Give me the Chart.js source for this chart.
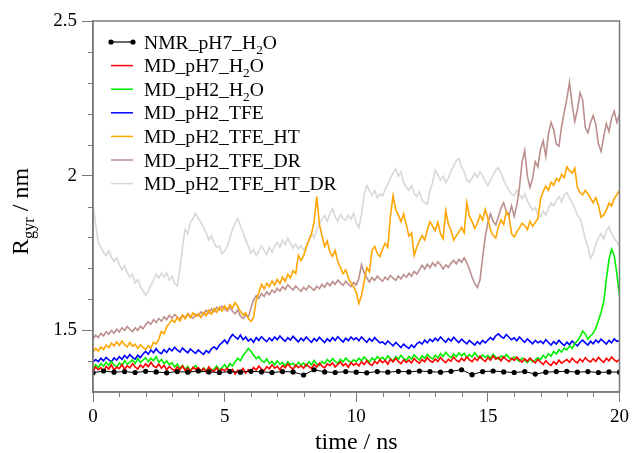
<!DOCTYPE html>
<html>
<head>
<meta charset="utf-8">
<title>Rgyr vs time</title>
<script src="https://cdn.jsdelivr.net/npm/chart.js"></script>
<style>
body{margin:0;background:#fff;}
#wrap{width:633px;height:453px;}
</style>
</head>
<body>
<div id="wrap"><canvas id="c" width="633" height="453"></canvas></div>
<script>
// series labels (₂ is drawn as a real subscript)
const labels=["NMR_pH7_H₂O","MD_pH7_H₂O","MD_pH2_H₂O","MD_pH2_TFE","MD_pH2_TFE_HT","MD_pH2_TFE_DR","MD_pH2_TFE_HT_DR"];
const colors=["#000000","#ff0000","#00ee00","#0000ff","#ffa500","#bc8f8f","#d8d8d8"];

// time steps (ns)
const nmrStep=0.4;
const mdStep=0.1;

const nmr=[1.362,1.368,1.364,1.366,1.363,1.367,1.365,1.362,1.366,1.364,1.368,1.365,1.363,1.366,1.364,1.367,1.365,1.363,1.366,1.365,
1.355,1.372,1.365,1.363,1.366,1.364,1.362,1.366,1.364,1.367,1.365,1.368,1.366,1.364,1.367,1.372,1.356,1.366,1.368,1.365,1.363,1.366,
1.358,1.364,1.366,1.367,1.364,1.366,1.363,1.365,1.364];

// one row per ns, last value at 20 ns
const mdPh7=[
1.368,1.381,1.372,1.379,1.366,1.383,1.374,1.388,1.371,1.380,
1.376,1.389,1.373,1.385,1.378,1.392,1.381,1.374,1.387,1.379,
1.391,1.382,1.396,1.384,1.379,1.390,1.377,1.386,1.372,1.383,
1.375,1.369,1.381,1.372,1.384,1.370,1.378,1.366,1.380,1.373,
1.379,1.368,1.376,1.364,1.381,1.371,1.367,1.378,1.365,1.374,
1.369,1.377,1.362,1.373,1.358,1.370,1.364,1.376,1.361,1.372,
1.366,1.379,1.371,1.384,1.374,1.369,1.382,1.375,1.388,1.377,
1.383,1.372,1.386,1.378,1.391,1.380,1.374,1.387,1.379,1.385,
1.377,1.390,1.382,1.376,1.389,1.381,1.393,1.384,1.378,1.391,
1.386,1.394,1.381,1.389,1.397,1.385,1.392,1.380,1.395,1.387,
1.393,1.384,1.398,1.389,1.401,1.391,1.386,1.399,1.392,1.404,
1.395,1.402,1.390,1.406,1.397,1.409,1.398,1.392,1.404,1.396,
1.403,1.394,1.408,1.399,1.393,1.405,1.398,1.411,1.401,1.396,
1.407,1.399,1.412,1.402,1.395,1.406,1.400,1.413,1.403,1.397,
1.409,1.401,1.414,1.404,1.398,1.410,1.402,1.416,1.405,1.399,
1.411,1.403,1.417,1.406,1.412,1.401,1.414,1.405,1.398,1.409,
1.402,1.413,1.404,1.397,1.408,1.399,1.410,1.401,1.394,1.405,
1.397,1.389,1.401,1.392,1.386,1.398,1.390,1.403,1.393,1.399,
1.405,1.396,1.409,1.400,1.394,1.407,1.398,1.411,1.402,1.397,
1.408,1.399,1.412,1.403,1.396,1.409,1.401,1.413,1.404,1.398,
1.406];

const mdPh2=[
1.375,1.388,1.379,1.392,1.383,1.396,1.386,1.399,1.388,1.381,
1.394,1.386,1.401,1.390,1.397,1.404,1.392,1.408,1.396,1.403,
1.411,1.398,1.409,1.401,1.414,1.396,1.405,1.392,1.400,1.388,
1.395,1.381,1.390,1.376,1.386,1.372,1.383,1.369,1.378,1.386,
1.373,1.365,1.378,1.367,1.380,1.369,1.374,1.384,1.371,1.379,
1.388,1.377,1.392,1.384,1.398,1.409,1.401,1.418,1.429,1.441,
1.432,1.419,1.408,1.414,1.401,1.396,1.407,1.392,1.399,1.388,
1.401,1.390,1.395,1.384,1.398,1.389,1.393,1.382,1.396,1.387,
1.394,1.383,1.398,1.388,1.402,1.391,1.386,1.399,1.392,1.405,
1.396,1.408,1.399,1.393,1.406,1.397,1.410,1.401,1.395,1.404,
1.398,1.409,1.401,1.413,1.404,1.397,1.410,1.402,1.415,1.406,
1.412,1.403,1.417,1.408,1.401,1.414,1.406,1.419,1.409,1.403,
1.415,1.406,1.420,1.411,1.404,1.417,1.409,1.422,1.413,1.407,
1.419,1.410,1.424,1.415,1.428,1.418,1.411,1.423,1.414,1.426,
1.417,1.425,1.412,1.421,1.414,1.427,1.416,1.409,1.420,1.412,
1.418,1.409,1.422,1.413,1.406,1.417,1.410,1.421,1.412,1.405,
1.414,1.406,1.399,1.410,1.402,1.395,1.407,1.398,1.404,1.411,
1.405,1.418,1.410,1.424,1.416,1.431,1.423,1.437,1.429,1.442,
1.436,1.449,1.441,1.456,1.465,1.478,1.497,1.488,1.471,1.482,
1.490,1.506,1.531,1.558,1.592,1.664,1.728,1.762,1.741,1.683,
1.612];

const mdTfe=[
1.396,1.405,1.398,1.409,1.401,1.412,1.404,1.398,1.410,1.403,
1.414,1.406,1.418,1.409,1.421,1.412,1.406,1.419,1.411,1.423,
1.431,1.422,1.436,1.427,1.440,1.429,1.424,1.437,1.428,1.441,
1.433,1.445,1.436,1.429,1.442,1.434,1.427,1.439,1.431,1.425,
1.436,1.428,1.422,1.434,1.427,1.440,1.446,1.438,1.452,1.459,
1.468,1.457,1.474,1.486,1.478,1.471,1.484,1.469,1.478,1.465,
1.472,1.461,1.476,1.467,1.479,1.470,1.463,1.475,1.466,1.478,
1.469,1.481,1.472,1.464,1.476,1.468,1.480,1.471,1.462,1.474,
1.466,1.478,1.469,1.461,1.473,1.465,1.477,1.468,1.460,1.472,
1.464,1.476,1.467,1.479,1.470,1.462,1.474,1.466,1.478,1.469,
1.475,1.466,1.478,1.469,1.461,1.473,1.464,1.476,1.467,1.459,
1.462,1.454,1.465,1.457,1.449,1.460,1.452,1.444,1.455,1.447,
1.441,1.452,1.444,1.456,1.462,1.455,1.468,1.459,1.471,1.463,
1.474,1.466,1.478,1.469,1.461,1.473,1.465,1.477,1.468,1.460,
1.471,1.463,1.456,1.467,1.459,1.452,1.463,1.455,1.467,1.459,
1.468,1.476,1.469,1.482,1.488,1.479,1.474,1.486,1.477,1.469,
1.475,1.466,1.478,1.469,1.461,1.472,1.464,1.456,1.467,1.459,
1.465,1.457,1.469,1.460,1.452,1.463,1.455,1.467,1.458,1.450,
1.461,1.453,1.465,1.457,1.449,1.460,1.468,1.459,1.452,1.464,
1.456,1.468,1.460,1.471,1.463,1.455,1.467,1.459,1.472,1.464,
1.466];

const mdTfeHt=[
1.428,1.441,1.432,1.446,1.437,1.452,1.443,1.458,1.449,1.462,
1.451,1.465,1.453,1.446,1.460,1.448,1.455,1.441,1.453,1.444,
1.437,1.450,1.442,1.461,1.455,1.472,1.496,1.488,1.511,1.522,
1.534,1.525,1.541,1.530,1.548,1.537,1.552,1.541,1.556,1.544,
1.553,1.541,1.558,1.547,1.565,1.552,1.569,1.558,1.574,1.562,
1.578,1.566,1.583,1.571,1.589,1.576,1.561,1.549,1.556,1.538,
1.528,1.541,1.597,1.622,1.648,1.634,1.652,1.641,1.659,1.646,
1.664,1.651,1.672,1.658,1.681,1.669,1.692,1.683,1.742,1.725,
1.741,1.768,1.789,1.812,1.851,1.932,1.842,1.806,1.771,1.788,
1.752,1.739,1.758,1.721,1.702,1.683,1.695,1.668,1.652,1.641,
1.622,1.586,1.612,1.658,1.702,1.689,1.758,1.771,1.749,1.738,
1.762,1.781,1.768,1.871,1.935,1.889,1.872,1.851,1.876,1.842,
1.804,1.815,1.742,1.768,1.789,1.806,1.792,1.825,1.851,1.836,
1.822,1.849,1.812,1.796,1.886,1.842,1.824,1.791,1.805,1.818,
1.832,1.815,1.912,1.868,1.851,1.829,1.845,1.872,1.856,1.891,
1.862,1.823,1.806,1.798,1.834,1.857,1.842,1.883,1.869,1.812,
1.802,1.818,1.831,1.846,1.838,1.825,1.852,1.836,1.849,1.861,
1.924,1.948,1.966,1.952,1.978,1.969,1.991,1.982,2.004,1.993,
2.028,2.016,2.008,2.024,1.962,1.945,1.938,1.952,1.941,1.927,
1.912,1.928,1.904,1.865,1.872,1.888,1.911,1.902,1.926,1.938,
1.952];

const mdTfeDr=[
1.472,1.484,1.476,1.490,1.481,1.495,1.487,1.499,1.490,1.503,
1.494,1.508,1.499,1.512,1.503,1.495,1.508,1.499,1.513,1.504,
1.518,1.527,1.519,1.534,1.525,1.538,1.529,1.543,1.534,1.548,
1.539,1.551,1.542,1.536,1.549,1.540,1.554,1.545,1.538,1.551,
1.546,1.559,1.550,1.564,1.555,1.569,1.560,1.574,1.565,1.578,
1.569,1.562,1.574,1.561,1.553,1.566,1.545,1.538,1.549,1.541,
1.572,1.598,1.611,1.603,1.618,1.609,1.624,1.615,1.630,1.621,
1.635,1.626,1.641,1.632,1.647,1.638,1.630,1.643,1.634,1.626,
1.639,1.630,1.644,1.636,1.629,1.642,1.634,1.648,1.639,1.653,
1.644,1.657,1.648,1.662,1.653,1.645,1.658,1.649,1.641,1.654,
1.646,1.668,1.712,1.686,1.669,1.656,1.670,1.661,1.675,1.666,
1.658,1.672,1.663,1.677,1.668,1.661,1.675,1.666,1.680,1.671,
1.684,1.675,1.690,1.681,1.696,1.710,1.698,1.713,1.702,1.718,
1.707,1.721,1.712,1.698,1.711,1.703,1.717,1.726,1.714,1.729,
1.720,1.734,1.718,1.696,1.672,1.651,1.638,1.662,1.735,1.802,
1.848,1.876,1.852,1.841,1.868,1.895,1.912,1.884,1.871,1.902,
1.868,1.905,1.962,2.045,2.081,1.998,1.962,1.991,2.045,2.028,
2.085,2.112,2.062,2.135,2.172,2.148,2.102,2.095,2.158,2.205,
2.248,2.302,2.231,2.175,2.212,2.268,2.245,2.156,2.138,2.172,
2.194,2.165,2.102,2.078,2.125,2.168,2.142,2.186,2.208,2.172,
2.198];

const mdTfeHtDr=[
1.912,1.842,1.782,1.768,1.752,1.741,1.758,1.736,1.722,1.734,
1.712,1.695,1.708,1.686,1.672,1.681,1.652,1.664,1.641,1.629,
1.612,1.628,1.645,1.662,1.681,1.668,1.684,1.671,1.686,1.662,
1.675,1.651,1.643,1.698,1.768,1.826,1.812,1.848,1.862,1.878,
1.861,1.849,1.832,1.815,1.792,1.805,1.781,1.768,1.772,1.748,
1.756,1.772,1.798,1.825,1.846,1.862,1.838,1.815,1.792,1.771,
1.748,1.762,1.741,1.756,1.772,1.758,1.745,1.768,1.752,1.771,
1.784,1.768,1.792,1.776,1.798,1.781,1.765,1.779,1.762,1.774,
1.758,1.772,1.795,1.812,1.798,1.826,1.842,1.859,1.871,1.852,
1.878,1.892,1.868,1.852,1.874,1.861,1.856,1.872,1.859,1.878,
1.846,1.832,1.875,1.938,1.968,1.951,1.936,1.952,1.928,1.941,
1.935,1.956,1.972,1.992,2.008,2.022,1.998,2.012,1.978,1.962,
1.952,1.968,1.942,1.932,1.948,1.921,1.912,1.908,1.952,1.978,
2.018,2.002,1.985,1.998,1.978,1.992,2.015,2.032,2.048,2.055,
2.028,2.012,1.985,1.978,1.992,2.008,1.995,2.012,1.998,1.982,
1.968,1.985,2.002,2.018,2.025,2.008,1.985,1.968,1.952,1.941,
1.935,1.952,1.938,1.925,1.941,1.918,1.902,1.888,1.896,1.872,
1.868,1.885,1.872,1.895,1.912,1.902,1.918,1.932,1.915,1.938,
1.945,1.928,1.912,1.896,1.872,1.862,1.832,1.795,1.768,1.732,
1.748,1.776,1.798,1.812,1.795,1.822,1.835,1.812,1.798,1.785,
1.772];

// axis ticks
const xTicks=[0,5,10,15,20];
const xMinor=[1,2,3,4,6,7,8,9,11,12,13,14,16,17,18,19];
const yTicks=[1.5,2,2.5];
const yMinor=[1.4,1.6,1.7,1.8,1.9,2.1,2.2,2.3,2.4];

const FONT='"Liberation Serif","Times New Roman",serif';
const AXIS='#7a7a7a';

function pts(vals,step){return vals.map((v,i)=>({x:+(i*step).toFixed(2),y:v}));}

const series=[nmr,mdPh7,mdPh2,mdTfe,mdTfeHt,mdTfeDr,mdTfeHtDr];
const datasets=series.map((vals,k)=>({
label:labels[k],
data:pts(vals,k===0?nmrStep:mdStep),
borderColor:colors[k],
backgroundColor:colors[k],
borderWidth:k===0?1:1.6,
pointRadius:k===0?2.6:0,
pointBorderWidth:0,
tension:0
}));

// text with real subscripts: "₂" -> small lowered "2"
function splitSub(s){
const out=[];
s.split('₂').forEach((part,i)=>{
if(i>0)out.push({t:'2',sub:true});
if(part)out.push({t:part,sub:false});
});
return out;
}
function runsWidth(ctx,runs,size){
let w=0;
runs.forEach(r=>{ctx.font=(r.sub?size*0.68:size)+'px '+FONT;w+=ctx.measureText(r.t).width;});
return w;
}
function drawRuns(ctx,runs,x,y,size){
let cx=x;
runs.forEach(r=>{
ctx.font=(r.sub?size*0.68:size)+'px '+FONT;
ctx.fillText(r.t,cx,y+(r.sub?size*0.27:0));
cx+=ctx.measureText(r.t).width;
});
}

const decor={
id:'decor',
afterDraw(chart){
const ctx=chart.ctx,a=chart.chartArea,xs=chart.scales.x,ys=chart.scales.y;
ctx.save();
// frame
ctx.strokeStyle=AXIS;ctx.lineWidth=1.5;
ctx.strokeRect(a.left,a.top,a.right-a.left,a.bottom-a.top);
// minor ticks
ctx.lineWidth=1;ctx.beginPath();
yMinor.forEach(v=>{const p=Math.round(ys.getPixelForValue(v))+0.5;ctx.moveTo(a.left-5,p);ctx.lineTo(a.left,p);});
xMinor.forEach(v=>{const p=Math.round(xs.getPixelForValue(v))+0.5;ctx.moveTo(p,a.bottom);ctx.lineTo(p,a.bottom+5);});
ctx.stroke();
// legend
ctx.textBaseline='alphabetic';ctx.textAlign='left';
labels.forEach((lab,k)=>{
const cy=42+k*23.6;
ctx.strokeStyle=colors[k];ctx.lineWidth=k===0?1.2:1.5;
ctx.beginPath();ctx.moveTo(111,cy);ctx.lineTo(133,cy);ctx.stroke();
ctx.fillStyle='#000';
if(k===0){
[111,133].forEach(px=>{ctx.beginPath();ctx.arc(px,cy,2.6,0,Math.PI*2);ctx.fill();});
}
drawRuns(ctx,splitSub(lab),144,cy+6.5,19.6);
});
// x title
const xr=[{t:'time / ns',sub:false}];
const xw=runsWidth(ctx,xr,24);
drawRuns(ctx,xr,(a.left+a.right)/2-xw/2,449,24);
// y title
const yr=[{t:'R',sub:false},{t:'gyr',sub:true},{t:' / nm',sub:false}];
const yw=runsWidth(ctx,yr,24);
ctx.translate(28,(a.top+a.bottom)/2+5);
ctx.rotate(-Math.PI/2);
drawRuns(ctx,yr,-yw/2,0,24);
ctx.restore();
}
};

new Chart(document.getElementById('c'),{
type:'line',
data:{datasets},
options:{
responsive:false,
animation:false,
layout:{padding:{top:21,right:10,left:0,bottom:0}},
plugins:{legend:{display:false},tooltip:{enabled:false}},
scales:{
x:{
type:'linear',min:0,max:20,
afterFit(s){s.height=61;},
afterBuildTicks(s){s.ticks=xTicks.map(v=>({value:v}));},
ticks:{color:'#000',font:{family:FONT,size:19},padding:4,maxRotation:0,callback:v=>String(v)},
grid:{drawOnChartArea:false,tickLength:10,color:AXIS,tickWidth:1},
border:{color:AXIS,width:1.5}
},
y:{
type:'linear',min:1.3,max:2.5,
afterFit(s){s.width=93;},
afterBuildTicks(s){s.ticks=yTicks.map(v=>({value:v}));},
ticks:{color:'#000',font:{family:FONT,size:19},padding:5,callback:v=>String(v)},
grid:{drawOnChartArea:false,tickLength:11,color:AXIS,tickWidth:1},
border:{color:AXIS,width:1.5}
}
}
},
plugins:[decor]
});
</script>
</body>
</html>
